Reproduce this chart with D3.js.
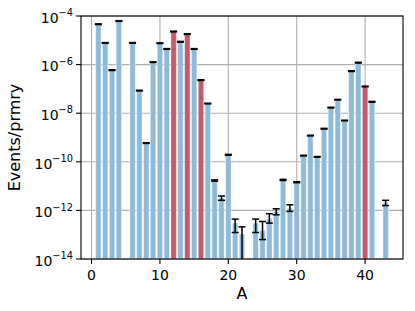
<!DOCTYPE html>
<html>
<head>
<meta charset="utf-8">
<script src="https://cdn.jsdelivr.net/npm/d3@7"></script>
<style>
  body { margin: 0; background: #fff; }
  svg text { font-family: "DejaVu Sans", sans-serif; fill: #000; }
</style>
</head>
<body>
<div id="chart"></div>
<script>
// bar data (A = mass number)
var massA = [1, 2, 3, 4, 6, 7, 8, 9, 10, 11, 12, 13, 14, 15, 16, 17, 18, 19, 20, 21, 22,
             24, 25, 26, 27, 28, 29, 30, 31, 32, 33, 34, 35, 36, 37, 38, 39, 40, 41, 43];
var events = [4.6e-5, 7.8e-6, 5.9e-7, 6.2e-5, 7.8e-6, 8.5e-8, 5.9e-10, 1.26e-6, 7.6e-6, 4.4e-6,
              2.3e-5, 8.7e-6, 1.8e-5, 4.4e-6, 2.3e-7, 2.5e-8, 1.7e-11, 3.2e-12, 1.95e-10, 3.0e-13,
              1.07e-13, 3.0e-13, 1.5e-13, 4.5e-13, 9.1e-13, 1.8e-11, 1.23e-12, 1.45e-11, 1.8e-10, 1.2e-9,
              1.6e-10, 2.3e-9, 1.7e-8, 3.6e-8, 5.0e-9, 5.4e-7, 1.2e-6, 1.26e-7, 2.95e-8, 2.0e-12];
// error bar ends (lower, upper)
var errLow = [4.45e-5, 7.55e-6, 5.7e-7, 6.0e-5, 7.55e-6, 8.2e-8, 5.7e-10, 1.22e-6, 7.35e-6, 4.25e-6,
              2.22e-5, 8.4e-6, 1.74e-5, 4.25e-6, 2.22e-7, 2.42e-8, 1.6e-11, 2.6e-12, 1.88e-10, 1.23e-13,
              1e-15, 1.23e-13, 6.3e-14, 3.0e-13, 6.6e-13, 1.7e-11, 9.1e-13, 1.38e-11, 1.74e-10, 1.16e-9,
              1.55e-10, 2.22e-9, 1.65e-8, 3.5e-8, 4.85e-9, 5.2e-7, 1.16e-6, 1.22e-7, 2.85e-8, 1.58e-12];
var errHigh = [4.75e-5, 8.05e-6, 6.1e-7, 6.4e-5, 8.05e-6, 8.8e-8, 6.1e-10, 1.3e-6, 7.85e-6, 4.55e-6,
               2.38e-5, 9.0e-6, 1.86e-5, 4.55e-6, 2.38e-7, 2.58e-8, 1.8e-11, 3.9e-12, 2.02e-10, 4.4e-13,
               2.1e-13, 4.4e-13, 3.5e-13, 7.3e-13, 1.17e-12, 1.9e-11, 1.7e-12, 1.52e-11, 1.86e-10, 1.24e-9,
               1.65e-10, 2.38e-9, 1.75e-8, 3.7e-8, 5.15e-9, 5.6e-7, 1.24e-6, 1.3e-7, 3.05e-8, 2.6e-12];
var highlighted = [12, 14, 16, 40];
var yTickExp = [-14, -12, -10, -8, -6, -4];
var xTicks = [0, 10, 20, 30, 40];

var W = 415, H = 311,
    m = { t: 16, r: 12, b: 52, l: 81 },
    w = W - m.l - m.r,
    h = H - m.t - m.b;

var svg = d3.select("#chart").append("svg")
    .attr("width", W)
    .attr("height", H);

var plot = svg.append("g")
    .attr("transform", "translate(" + m.l + "," + m.t + ")");

var x = d3.scaleLinear().domain([-1.54, 45.54]).range([0, w]),
    y = d3.scaleLog().domain([1e-14, 1e-4]).range([h, 0]);

var data = massA.map(function(a, i) {
  return { a: a, v: events[i], lo: errLow[i], hi: errHigh[i], red: highlighted.indexOf(a) >= 0 };
});

svg.append("clipPath").attr("id", "clip")
  .append("rect").attr("width", w).attr("height", h);

// grid
plot.append("g").selectAll("line.gx")
    .data(xTicks).enter().append("line")
    .attr("x1", function(d) { return x(d); }).attr("x2", function(d) { return x(d); })
    .attr("y1", 0).attr("y2", h)
    .attr("stroke", "#b0b0b0").attr("stroke-width", 1.1);
plot.append("g").selectAll("line.gy")
    .data(yTickExp).enter().append("line")
    .attr("x1", 0).attr("x2", w)
    .attr("y1", function(d) { return y(Math.pow(10, d)); })
    .attr("y2", function(d) { return y(Math.pow(10, d)); })
    .attr("stroke", "#b0b0b0").attr("stroke-width", 1.1);

var bw = x(0.8) - x(0);
var g = plot.append("g").attr("clip-path", "url(#clip)");

g.selectAll("rect.bar")
    .data(data).enter().append("rect")
    .attr("class", "bar")
    .attr("x", function(d) { return x(d.a) - bw / 2; })
    .attr("width", bw)
    .attr("y", function(d) { return y(d.v); })
    .attr("height", function(d) { return h - y(d.v); })
    .attr("fill", function(d) { return d.red ? "#c65a6b" : "#8fbbd9"; })
    .attr("stroke", "#ffffff")
    .attr("stroke-opacity", 0.45)
    .attr("stroke-width", 1);

// error bars
var eb = g.selectAll("g.err").data(data).enter().append("g");
eb.append("line")
    .attr("x1", function(d) { return x(d.a); }).attr("x2", function(d) { return x(d.a); })
    .attr("y1", function(d) { return y(d.lo); }).attr("y2", function(d) { return y(d.hi); })
    .attr("stroke", "#000").attr("stroke-width", 1.5);
["lo", "hi"].forEach(function(k) {
  eb.append("line")
      .attr("x1", function(d) { return x(d.a) - 3.5; }).attr("x2", function(d) { return x(d.a) + 3.5; })
      .attr("y1", function(d) { return y(d[k]); }).attr("y2", function(d) { return y(d[k]); })
      .attr("stroke", "#000").attr("stroke-width", 1.5);
});

// frame
plot.append("rect")
    .attr("width", w).attr("height", h)
    .attr("fill", "none").attr("stroke", "#000").attr("stroke-width", 1.1);

// y axis ticks + labels (10^n)
var yt = plot.append("g").selectAll("g")
    .data(yTickExp).enter().append("g")
    .attr("transform", function(d) { return "translate(0," + y(Math.pow(10, d)) + ")"; });
yt.append("line").attr("x1", -5).attr("x2", 0).attr("stroke", "#000").attr("stroke-width", 1.1);
var ytx = yt.append("text")
    .attr("x", -8).attr("y", 6.7)
    .attr("text-anchor", "end")
    .style("font-size", "14px");
ytx.append("tspan").text("10");
ytx.append("tspan")
    .attr("dy", -6.5)
    .style("font-size", "9.8px")
    .text(function(d) { return "\u2212" + Math.abs(d); });

// x axis ticks + labels
var xt = plot.append("g").selectAll("g")
    .data(xTicks).enter().append("g")
    .attr("transform", function(d) { return "translate(" + x(d) + "," + h + ")"; });
xt.append("line").attr("y1", 0).attr("y2", 5).attr("stroke", "#000").attr("stroke-width", 1.1);
xt.append("text")
    .attr("y", 20.5)
    .attr("text-anchor", "middle")
    .style("font-size", "14px")
    .text(function(d) { return d; });

// axis titles
svg.append("text")
    .attr("x", m.l + w / 2).attr("y", 298.5)
    .attr("text-anchor", "middle")
    .style("font-size", "16px")
    .text("A");
svg.append("text")
    .attr("transform", "translate(20," + (m.t + h / 2) + ") rotate(-90)")
    .attr("text-anchor", "middle")
    .style("font-size", "16px")
    .text("Events/prmry");
</script>
</body>
</html>
